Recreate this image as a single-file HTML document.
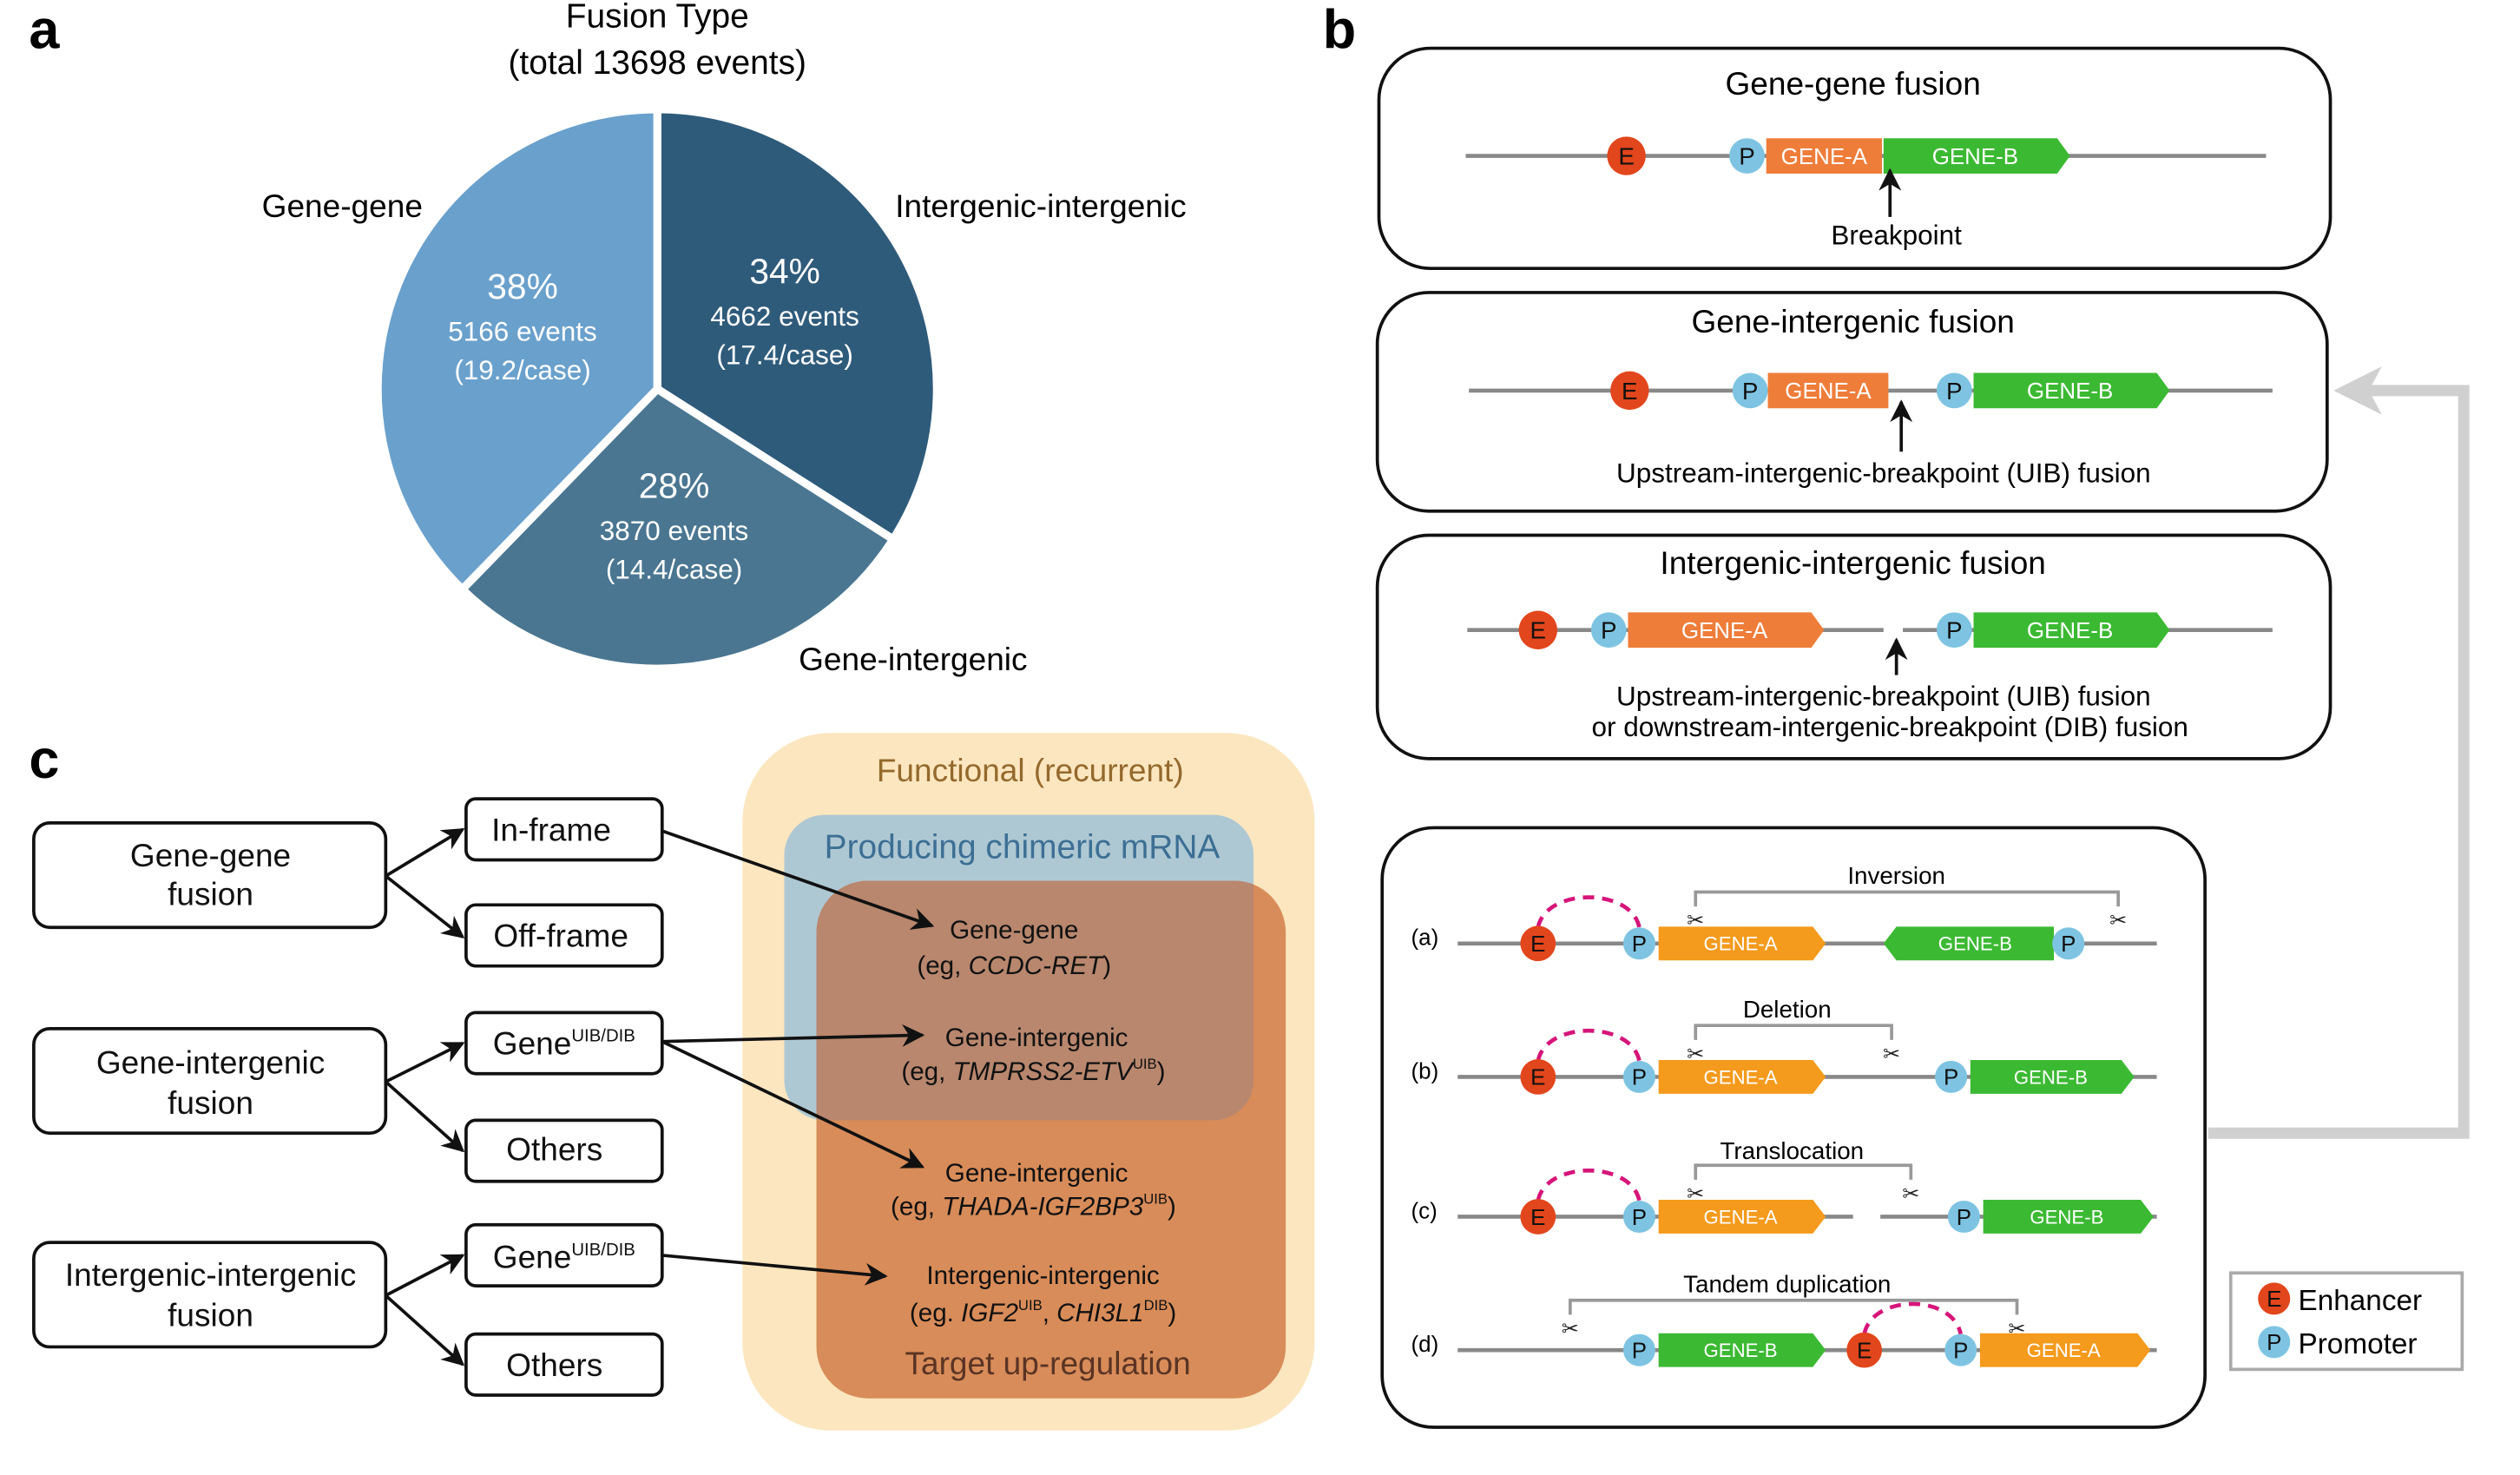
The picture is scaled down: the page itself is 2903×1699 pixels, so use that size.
<!DOCTYPE html>
<html><head><meta charset="utf-8"><style>
html,body{margin:0;padding:0;background:#fff;}
svg{display:block;font-family:"Liberation Sans",Arial,sans-serif;}
</style></head><body>
<svg id="fig" width="2903" height="1699" viewBox="0 0 1568 917.7" preserveAspectRatio="none" xmlns="http://www.w3.org/2000/svg">
<defs>
<marker id="ah" viewBox="0 0 10 10" refX="9" refY="5" markerWidth="7" markerHeight="7" orient="auto"><path d="M0,0 L10,5 L0,10 L3,5 z" fill="#111"/></marker>
<clipPath id="blueclip"><rect x="488" y="507" width="292" height="190" rx="25"/></clipPath>
</defs>

<text x="18" y="30" font-size="34" font-weight="bold">a</text>
<text x="823" y="30" font-size="34" font-weight="bold">b</text>
<text x="18" y="484" font-size="34" font-weight="bold">c</text>

<g id="pie">
<text x="409" y="17" font-size="21" text-anchor="middle">Fusion Type</text>
<text x="409" y="46" font-size="21" text-anchor="middle">(total 13698 events)</text>
</g>

<g>
<path d="M1374,705 L1533,705 L1533,243 L1470,243" fill="none" stroke="#d0d0d0" stroke-width="7"/>
<path d="M1452,243 L1482,228 L1474,243 L1482,258 z" fill="#d0d0d0"/>

<rect x="858" y="30" width="592" height="137" rx="32" fill="#fff" stroke="#111" stroke-width="2"/>
<rect x="857" y="182" width="591" height="136" rx="32" fill="#fff" stroke="#111" stroke-width="2"/>
<rect x="857" y="333" width="593" height="139" rx="32" fill="#fff" stroke="#111" stroke-width="2"/>
<rect x="860" y="515" width="512" height="373" rx="32" fill="#fff" stroke="#111" stroke-width="2"/>
<rect x="1388" y="792" width="144" height="60" fill="#fff" stroke="#aaa" stroke-width="2"/>

<text x="1153" y="59" font-size="20" text-anchor="middle">Gene-gene fusion</text>
<text x="1153" y="207" font-size="20" text-anchor="middle">Gene-intergenic fusion</text>
<text x="1153" y="357" font-size="20" text-anchor="middle">Intergenic-intergenic fusion</text>
<g id="bdiag"></g>
<text x="1180" y="152" font-size="17" text-anchor="middle">Breakpoint</text>
<text x="1172" y="300" font-size="17" text-anchor="middle">Upstream-intergenic-breakpoint (UIB) fusion</text>
<text x="1172" y="439" font-size="17" text-anchor="middle">Upstream-intergenic-breakpoint (UIB) fusion</text>
<text x="1176" y="458" font-size="17" text-anchor="middle">or downstream-intergenic-breakpoint (DIB) fusion</text>
<text x="1180" y="550" font-size="15" text-anchor="middle">Inversion</text>
<text x="1112" y="633" font-size="15" text-anchor="middle">Deletion</text>
<text x="1115" y="721" font-size="15" text-anchor="middle">Translocation</text>
<text x="1112" y="804" font-size="15" text-anchor="middle">Tandem duplication</text>
<text x="878" y="588" font-size="14">(a)</text>
<text x="878" y="671" font-size="14">(b)</text>
<text x="878" y="758" font-size="14">(c)</text>
<text x="878" y="841" font-size="14">(d)</text>
<text x="1430" y="815" font-size="18">Enhancer</text>
<text x="1430" y="842" font-size="18">Promoter</text>
</g>

<g>
<rect x="462" y="456" width="356" height="434" rx="55" fill="#fbe6bf"/>
<rect x="488" y="507" width="292" height="190" rx="25" fill="#aec8d3"/>
<rect x="508" y="548" width="292" height="322" rx="32" fill="#d88c59"/>
<rect x="508" y="548" width="292" height="322" rx="32" fill="#b8876e" clip-path="url(#blueclip)"/>
<text x="641" y="486" font-size="20" text-anchor="middle" fill="#94692c">Functional (recurrent)</text>
<text x="636" y="534" font-size="21" text-anchor="middle" fill="#3d6f94">Producing chimeric mRNA</text>
<text x="652" y="855" font-size="20" text-anchor="middle" fill="#5a3424">Target up-regulation</text>
<g font-size="16" text-anchor="middle" fill="#111">
<text x="631" y="584">Gene-gene</text>
<text x="631" y="606">(eg, <tspan font-style="italic">CCDC-RET</tspan>)</text>
<text x="645" y="651">Gene-intergenic</text>
<text x="643" y="672">(eg, <tspan font-style="italic">TMPRSS2-ETV</tspan><tspan font-size="9" dy="-7">UIB</tspan><tspan dy="7">)</tspan></text>
<text x="645" y="735">Gene-intergenic</text>
<text x="643" y="756">(eg, <tspan font-style="italic">THADA-IGF2BP3</tspan><tspan font-size="9" dy="-7">UIB</tspan><tspan dy="7">)</tspan></text>
<text x="649" y="799">Intergenic-intergenic</text>
<text x="649" y="822">(eg. <tspan font-style="italic">IGF2</tspan><tspan font-size="9" dy="-7">UIB</tspan><tspan dy="7">, </tspan><tspan font-style="italic">CHI3L1</tspan><tspan font-size="9" dy="-7">DIB</tspan><tspan dy="7">)</tspan></text>
</g>
<g fill="#fff" stroke="#111" stroke-width="2">
<rect x="21" y="512" width="219" height="65" rx="10"/>
<rect x="21" y="640" width="219" height="65" rx="10"/>
<rect x="21" y="773" width="219" height="65" rx="10"/>
<rect x="290" y="497" width="122" height="38" rx="6"/>
<rect x="290" y="563" width="122" height="38" rx="6"/>
<rect x="290" y="630" width="122" height="38" rx="6"/>
<rect x="290" y="697" width="122" height="38" rx="6"/>
<rect x="290" y="762" width="122" height="38" rx="6"/>
<rect x="290" y="830" width="122" height="38" rx="6"/>
</g>
<g font-size="20" text-anchor="middle" fill="#111">
<text x="131" y="539">Gene-gene</text>
<text x="131" y="563">fusion</text>
<text x="131" y="668">Gene-intergenic</text>
<text x="131" y="693">fusion</text>
<text x="131" y="800">Intergenic-intergenic</text>
<text x="131" y="825">fusion</text>
<text x="343" y="523">In-frame</text>
<text x="349" y="589">Off-frame</text>
<text x="345" y="722">Others</text>
<text x="345" y="856">Others</text>
<text x="351" y="656">Gene<tspan font-size="11" dy="-8">UIB/DIB</tspan></text>
<text x="351" y="789">Gene<tspan font-size="11" dy="-8">UIB/DIB</tspan></text>
</g>
<g stroke="#111" stroke-width="2" fill="none" marker-end="url(#ah)">
<line x1="240" y1="545" x2="288" y2="516"/><line x1="240" y1="545" x2="288" y2="583"/>
<line x1="240" y1="673" x2="288" y2="649"/><line x1="240" y1="673" x2="288" y2="716"/>
<line x1="240" y1="806" x2="288" y2="781"/><line x1="240" y1="806" x2="288" y2="849"/>
<line x1="412" y1="517" x2="580" y2="576"/>
<line x1="412" y1="648" x2="574" y2="644"/>
<line x1="412" y1="648" x2="574" y2="726"/>
<line x1="412" y1="781" x2="551" y2="794"/>
</g>
</g>

<script>
// Pie data
const pieCategories = ["Intergenic-intergenic", "Gene-intergenic", "Gene-gene"];
const piePercents = [34, 28, 38];
const pieEvents = [4662, 3870, 5166];
const piePerCase = ["17.4", "14.4", "19.2"];
const pieColors = ["#2f5b7b", "#4a7691", "#6aa0cc"];

const NS = "http://www.w3.org/2000/svg";
const pie = document.getElementById("pie");
const cx = 409, cy = 242, r = 174;
const total = pieEvents.reduce((a, b) => a + b, 0);
function pt(frac, rad) {
  const a = frac * 2 * Math.PI;
  return [cx + rad * Math.sin(a), cy - rad * Math.cos(a)];
}
let acc = 0;
const labelPos = [[557, 135, "start"], [497, 417, "start"], [263, 135, "end"]];
pieEvents.forEach((v, i) => {
  const f0 = acc / total, f1 = (acc + v) / total;
  acc += v;
  const p0 = pt(f0, r), p1 = pt(f1, r);
  const large = (f1 - f0) > 0.5 ? 1 : 0;
  const path = document.createElementNS(NS, "path");
  path.setAttribute("d", `M${cx},${cy} L${p0[0]},${p0[1]} A${r},${r} 0 ${large} 1 ${p1[0]},${p1[1]} Z`);
  path.setAttribute("fill", pieColors[i]);
  path.setAttribute("stroke", "#fff");
  path.setAttribute("stroke-width", "5");
  
  
  pie.appendChild(path);
  const fm = (f0 + f1) / 2;
  const c = pt(fm, r * 0.52);
  const lines = [[piePercents[i] + "%", 22, -22], [pieEvents[i] + " events", 17, 4], ["(" + piePerCase[i] + "/case)", 17, 28]];
  lines.forEach(([txt, fs, dy]) => {
    const t = document.createElementNS(NS, "text");
    t.setAttribute("x", c[0]); t.setAttribute("y", c[1] + dy);
    t.setAttribute("font-size", fs); t.setAttribute("fill", "#fff");
    t.setAttribute("text-anchor", "middle");
    t.textContent = txt;
    
    
    pie.appendChild(t);
  });
  const L = document.createElementNS(NS, "text");
  L.setAttribute("x", labelPos[i][0]); L.setAttribute("y", labelPos[i][1]);
  L.setAttribute("text-anchor", labelPos[i][2]);
  L.setAttribute("font-size", "20");
  L.textContent = pieCategories[i];
  
  
  pie.appendChild(L);
});

const g = document.getElementById("bdiag");
function el(tag, attrs, txt) {
  const e = document.createElementNS(NS, tag);
  for (const k in attrs) e.setAttribute(k, attrs[k]);
  if (txt !== undefined) e.textContent = txt;
  g.appendChild(e);
  return e;
}
function line(x1, x2, y) { el("line", {x1, x2, y1: y, y2: y, stroke: "#888", "stroke-width": 2.5}); }
function circ(x, y, rr, fill, letter, fs) {
  el("circle", {cx: x, cy: y, r: rr, fill});
  el("text", {x, y: y + fs * 0.36, "font-size": fs, "text-anchor": "middle", fill: "#111"}, letter);
}
function gene(x1, x2, y, h, fill, label, dir, fs) {
  const hh = h / 2, tip = 8;
  let d;
  if (dir === 1) d = `M${x1},${y - hh} L${x2},${y - hh} L${x2 + tip},${y} L${x2},${y + hh} L${x1},${y + hh} Z`;
  else if (dir === -1) d = `M${x1},${y - hh} L${x2},${y - hh} L${x2},${y + hh} L${x1},${y + hh} L${x1 - tip},${y} Z`;
  else d = `M${x1},${y - hh} L${x2},${y - hh} L${x2},${y + hh} L${x1},${y + hh} Z`;
  el("path", {d, fill});
  el("text", {x: (x1 + x2) / 2 + (dir === 1 ? 3 : 0), y: y + fs * 0.36, "font-size": fs, "text-anchor": "middle", fill: "#fff"}, label);
}
function arrowUp(x, y1, y2) { el("line", {x1: x, x2: x, y1, y2, stroke: "#111", "stroke-width": 2, "marker-end": "url(#ah)"}); }
const RED = "#e2461c", BLUE = "#7ec4e2", OR = "#ee7d3a", GR = "#3cb933", OR2 = "#f49a1c";
line(912, 1410, 97); circ(1012, 97, 12, RED, "E", 15); circ(1087, 97, 11, BLUE, "P", 15);
gene(1099, 1171, 97, 22, OR, "GENE-A", 0, 14); gene(1172, 1280, 97, 22, GR, "GENE-B", 1, 14);
arrowUp(1176, 135, 106);
line(914, 1414, 243); circ(1014, 243, 12, RED, "E", 15); circ(1089, 243, 11, BLUE, "P", 15);
gene(1100, 1175, 243, 22, OR, "GENE-A", 0, 14); circ(1216, 243, 11, BLUE, "P", 15);
gene(1228, 1342, 243, 22, GR, "GENE-B", 1, 14); arrowUp(1183, 281, 250);
line(913, 1172, 392); line(1184, 1414, 392); circ(957, 392, 12, RED, "E", 15); circ(1001, 392, 11, BLUE, "P", 15);
gene(1013, 1127, 392, 22, OR, "GENE-A", 1, 14); circ(1216, 392, 11, BLUE, "P", 15);
gene(1228, 1342, 392, 22, GR, "GENE-B", 1, 14); arrowUp(1180, 420, 398);
function arc(x1, x2, y) {
  el("path", {d: `M${x1},${y - 10} C${x1 + 5},${y - 35} ${x2 - 5},${y - 35} ${x2},${y - 10}`, fill: "none", stroke: "#d6157a", "stroke-width": 2.5, "stroke-dasharray": "7,5"});
}
function bracket(x1, x2, y) {
  el("path", {d: `M${x1},${y + 9} L${x1},${y} L${x2},${y} L${x2},${y + 9}`, fill: "none", stroke: "#999", "stroke-width": 2});
  el("text", {x: x1, y: y + 22, "font-size": 13, "text-anchor": "middle", fill: "#222"}, "✂");
  el("text", {x: x2, y: y + 22, "font-size": 13, "text-anchor": "middle", fill: "#222"}, "✂");
}
line(907, 1342, 587); arc(957, 1020, 587); bracket(1055, 1318, 555);
circ(957, 587, 11, RED, "E", 14); circ(1020, 587, 10, BLUE, "P", 14);
gene(1032, 1128, 587, 21, OR2, "GENE-A", 1, 12); gene(1180, 1278, 587, 21, GR, "GENE-B", -1, 12); circ(1287, 587, 10, BLUE, "P", 14);
line(907, 1342, 670); arc(957, 1020, 670); bracket(1055, 1177, 638);
circ(957, 670, 11, RED, "E", 14); circ(1020, 670, 10, BLUE, "P", 14);
gene(1032, 1128, 670, 21, OR2, "GENE-A", 1, 12); circ(1214, 670, 10, BLUE, "P", 14); gene(1226, 1320, 670, 21, GR, "GENE-B", 1, 12);
line(907, 1153, 757); line(1170, 1342, 757); arc(957, 1020, 757); bracket(1055, 1189, 725);
circ(957, 757, 11, RED, "E", 14); circ(1020, 757, 10, BLUE, "P", 14);
gene(1032, 1128, 757, 21, OR2, "GENE-A", 1, 12); circ(1222, 757, 10, BLUE, "P", 14); gene(1234, 1332, 757, 21, GR, "GENE-B", 1, 12);
line(907, 1342, 840); arc(1160, 1220, 840); bracket(977, 1255, 809);
circ(1020, 840, 10, BLUE, "P", 14); gene(1032, 1128, 840, 21, GR, "GENE-B", 1, 12);
circ(1160, 840, 11, RED, "E", 14); circ(1220, 840, 10, BLUE, "P", 14); gene(1232, 1330, 840, 21, OR2, "GENE-A", 1, 12);
circ(1415, 808, 10, RED, "E", 14); circ(1415, 835, 10, BLUE, "P", 14);
</script>
</svg>
</body></html>
